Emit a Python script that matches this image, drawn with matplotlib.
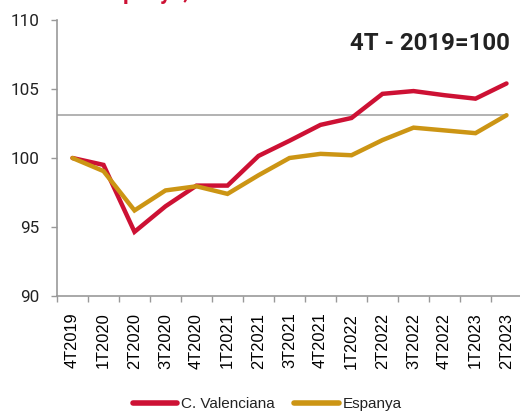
import matplotlib
matplotlib.use('Agg')
import matplotlib.pyplot as plt

# dades (índex 4T2019 = 100)
trimestres = ['4T2019', '1T2020', '2T2020', '3T2020', '4T2020', '1T2021', '2T2021',
              '3T2021', '4T2021', '1T2022', '2T2022', '3T2022', '4T2022', '1T2023', '2T2023']
cv = [100.0, 99.5, 94.65, 96.5, 98.0, 98.0, 100.15, 101.25, 102.4, 102.9, 104.65,
      104.85, 104.55, 104.3, 105.4]
espanya = [100.0, 99.05, 96.2, 97.65, 97.95, 97.4, 98.75, 100.0, 100.3, 100.2, 101.3,
           102.2, 102.0, 101.8, 103.1]

RED = '#CD1134'
GOLD = '#CC9514'
GRID = '#A6A6A6'

fig = plt.figure(figsize=(5.2, 4.12), dpi=100)
ax = fig.add_axes([57/520, 1 - 296/412, 465/520, 276/412])

x = list(range(len(trimestres)))
ax.plot(x, cv, color=RED, lw=3.2, solid_capstyle='round', solid_joinstyle='miter',
        label='C. Valenciana', zorder=3)
ax.plot(x, espanya, color=GOLD, lw=3.2, solid_capstyle='round', solid_joinstyle='miter',
        label='Espanya', zorder=3)

# línia de referència al darrer valor d'Espanya
ax.hlines(espanya[-1], -0.5, x[-1], color=GRID, lw=1.2, zorder=2)

ax.set_xlim(-0.5, len(trimestres) - 0.5)
ax.set_ylim(90, 110)
ax.set_yticks([90, 95, 100, 105, 110])
ax.set_xticks(x)
ax.set_xticklabels(trimestres, rotation=90, fontfamily='Liberation Sans', fontsize=11.8)
ax.set_xticks([i - 0.5 for i in range(len(trimestres) + 1)], minor=True)
ax.tick_params(axis='x', which='major', length=0, pad=12)
ax.tick_params(axis='x', which='minor', length=4, color='#999999', width=1)
ax.tick_params(axis='y', length=4, color='#999999', width=1, pad=8.5, labelsize=12.3)
for lab in ax.get_yticklabels():
    lab.set_fontfamily('Roboto')
    lab.set_color('#222222')

for s in ['top', 'right']:
    ax.spines[s].set_visible(False)
for s in ['left', 'bottom']:
    ax.spines[s].set_color('#999999')
    ax.spines[s].set_linewidth(1.2)

fig.text(510/520, 1 - 44/412, '4T - 2019=100', ha='right', va='center',
         fontfamily='Roboto', fontweight='bold', fontsize=17.3, color='#222222')

# títol tallat a dalt (només es veuen les cues de les lletres)
fig.text(100/520, 1 + 1/412, 'Espanya,', ha='left', va='baseline',
         fontfamily='Roboto', fontweight='bold', fontsize=16, color=RED)

leg = fig.legend(loc='center', bbox_to_anchor=(267/520, 1 - 404/412), ncol=2, frameon=False,
                 handlelength=2.9, handletextpad=0.25, columnspacing=1.3,
                 prop={'family': 'Liberation Sans', 'size': 11})
for t in leg.get_texts():
    t.set_color('#222222')
for h in leg.legend_handles:
    h.set_linewidth(4)

fig.savefig('out.png', dpi=100)
